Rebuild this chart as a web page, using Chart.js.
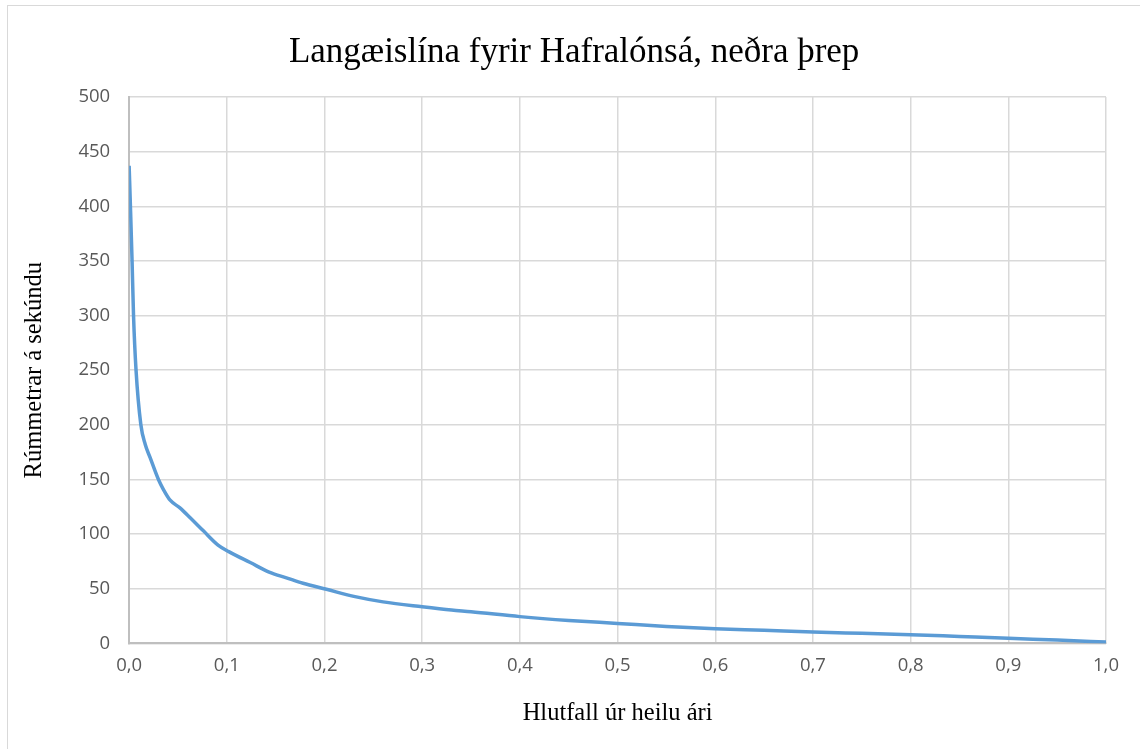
<!DOCTYPE html>
<html>
<head>
<meta charset="utf-8">
<script src="https://cdn.jsdelivr.net/npm/chart.js@4/dist/chart.umd.min.js"></script>
<style>
  body { margin: 0; background: #fff; }
  #wrap { position: relative; width: 1140px; height: 749px; }
  #frame { position: absolute; left: 7px; top: 5px; right: -5px; bottom: -5px; border: 1px solid #d9d9d9; }
  canvas { position: absolute; left: 0; top: 0; }
</style>
</head>
<body>
<div id="wrap">
  <div id="frame"></div>
  <canvas id="myChart" width="1140" height="749"></canvas>
</div>
<script>
// hlutfall úr ári (x) og rennsli í m3/s (y), lesið af myndinni
var hlutfall = [0, 0.0015, 0.003, 0.0045, 0.007, 0.012, 0.0165, 0.0215, 0.030, 0.035, 0.042, 0.052, 0.0625, 0.076, 0.091, 0.102, 0.124, 0.144, 0.161, 0.178, 0.202, 0.23, 0.26, 0.30, 0.33, 0.35, 0.40, 0.45, 0.50, 0.55, 0.60, 0.65, 0.70, 0.75, 0.80, 0.85, 0.90, 0.95, 1.00];
var rennsli = [437, 395, 350, 300, 251, 200, 182, 170, 150, 141, 131, 124, 115, 103, 90, 84, 74, 65, 60, 55, 49.5, 43, 38, 33.5, 30.5, 29, 24.5, 21, 18.3, 15.5, 13.5, 12, 10.4, 9.2, 8, 6.3, 4.6, 3, 1.3];

var titill = 'Langæislína fyrir Hafralónsá, neðra þrep';
var xTitill = 'Hlutfall úr heilu ári';
var yTitill = 'Rúmmetrar á sekúndu';

var punktar = hlutfall.map(function (h, i) { return { x: h, y: rennsli[i] }; });

var ctx = document.getElementById('myChart').getContext('2d');
var chart = new Chart(ctx, {
    type: 'line',
    data: {
        datasets: [{
            label: 'Langæislína',
            data: punktar,
            borderColor: '#5b9bd5',
            borderWidth: 3.5,
            pointRadius: 0,
            fill: false,
            cubicInterpolationMode: 'monotone'
        }]
    },
    options: {
        responsive: false,
        animation: false,
        layout: { padding: { left: 16, right: 34, top: 20, bottom: 17 } },
        plugins: {
            legend: { display: false },
            tooltip: { enabled: false },
            title: {
                display: true,
                // bil fremst til að hliðra titlinum aðeins til hægri eins og í frumriti
                text: '   ' + titill,
                color: '#000',
                font: { family: '"Liberation Serif", serif', size: 35, weight: 'normal' },
                padding: { top: 12, bottom: 23 }
            }
        },
        scales: {
            x: {
                type: 'linear',
                min: 0,
                max: 1,
                ticks: {
                    stepSize: 0.1,
                    color: '#595959',
                    font: { family: '"Open Sans"', size: 18.5 },
                    padding: 11,
                    callback: function (v) { return v.toFixed(1).replace('.', ','); }
                },
                grid: { color: '#d9d9d9', lineWidth: 1.5, drawTicks: false },
                border: { color: '#bfbfbf', width: 2 },
                title: {
                    display: true,
                    text: xTitill,
                    color: '#000',
                    font: { family: '"Liberation Serif", serif', size: 24.5 },
                    padding: { top: 11 }
                }
            },
            y: {
                min: 0,
                max: 500,
                ticks: {
                    stepSize: 50,
                    color: '#595959',
                    font: { family: '"Open Sans"', size: 18.5 },
                    padding: 19
                },
                grid: { color: '#d9d9d9', lineWidth: 1.5, drawTicks: false },
                border: { color: '#bfbfbf', width: 2 },
                title: {
                    display: true,
                    text: yTitill,
                    color: '#000',
                    font: { family: '"Liberation Serif", serif', size: 24.5 },
                    padding: { bottom: 10 }
                }
            }
        }
    }
});
</script>
</body>
</html>
